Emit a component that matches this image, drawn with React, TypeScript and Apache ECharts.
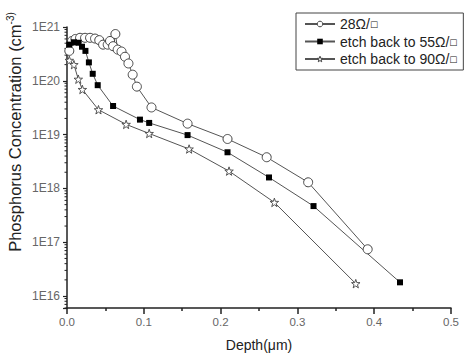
import React, { useEffect, useRef } from "react";
import * as echarts from "echarts";

const seriesNames = ["28Ω/□", "etch back to 55Ω/□", "etch back to 90Ω/□"];

const depth28 = [0.003, 0.0065, 0.011, 0.017, 0.0235, 0.03, 0.0365, 0.042, 0.047, 0.053, 0.056, 0.06, 0.063, 0.066, 0.071, 0.0755, 0.08, 0.0855, 0.091, 0.11, 0.157, 0.209, 0.26, 0.314, 0.3915];
const conc28 = [3.6e20, 5.5e20, 6.0e20, 6.3e20, 6.3e20, 6.3e20, 6.1e20, 5.7e20, 4.7e20, 4.7e20, 5.5e20, 4.4e20, 7.4e20, 3.8e20, 3.5e20, 2.8e20, 2.1e20, 1.3e20, 7.8e19, 3.2e19, 1.6e19, 8.3e18, 3.8e18, 1.3e18, 7.4e16];

const depth55 = [0.003, 0.009, 0.015, 0.0195, 0.024, 0.0285, 0.0335, 0.04, 0.06, 0.095, 0.107, 0.157, 0.209, 0.263, 0.321, 0.4336];
const conc55 = [4.7e20, 5.2e20, 5.1e20, 4.3e20, 3.6e20, 2.2e20, 1.35e20, 8.3e19, 3.4e19, 1.9e19, 1.65e19, 9.8e18, 4.7e18, 1.6e18, 4.7e17, 1.8e16];

const depth90 = [0.003, 0.009, 0.0147, 0.02, 0.041, 0.077, 0.107, 0.159, 0.211, 0.27, 0.376];
const conc90 = [2.4e20, 2.0e20, 1.07e20, 6.9e19, 2.9e19, 1.55e19, 1.05e19, 5.4e18, 2.1e18, 5.5e17, 1.7e16];

const xTicks = [0, 0.1, 0.2, 0.3, 0.4, 0.5];
const yDecades = [1e16, 1e17, 1e18, 1e19, 1e20, 1e21];
const yTitle = "Phosphorus Concentration (cm";
const yTitleSup = "-3)";

const STAR =
  "path://M0,-10L2.35,-3.24L9.51,-3.09L3.8,1.24L5.88,8.09L0,4L-5.88,8.09L-3.8,1.24L-9.51,-3.09L-2.35,-3.24Z";

const FONT = "Liberation Sans, Arial, sans-serif";
const LINE = "#555";

function pairs(xs: number[], ys: number[]) {
  return xs.map((x, i) => [x, ys[i]]);
}

export default function App() {
  const ref = useRef<HTMLDivElement>(null);
  useEffect(() => {
    if (!ref.current) return;
    const chart = echarts.init(ref.current, null, { renderer: "svg" });
    const hollow = { color: "#fff", borderColor: "#444", borderWidth: 1 };
    const option: any = {
      animation: false,
      backgroundColor: "#fff",
      textStyle: { fontFamily: FONT },
      grid: { left: 67, right: 25, top: 27, bottom: 56, containLabel: false },
      legend: {
        orient: "vertical",
        left: 296,
        top: 13,
        backgroundColor: "#fff",
        borderColor: "#444",
        borderWidth: 1,
        borderRadius: 0,
        padding: [4, 6, 4, 8],
        itemWidth: 30,
        itemHeight: 7,
        itemGap: 3.5,
        data: [
          { name: seriesNames[0], itemStyle: hollow },
          { name: seriesNames[1] },
          { name: seriesNames[2], itemStyle: hollow },
        ],
        formatter: (n: string) => "{t|" + n.replace("□", "") + "}{b|□}",
        textStyle: {
          fontFamily: FONT,
          fontSize: 14,
          color: "#222",
          lineHeight: 14,
          rich: {
            t: { fontFamily: FONT, fontSize: 14, color: "#222", lineHeight: 14 },
            b: { fontFamily: "DejaVu Sans", fontSize: 8.5, color: "#222", lineHeight: 14 },
          },
        },
      },
      xAxis: {
        type: "value",
        min: xTicks[0],
        max: xTicks[xTicks.length - 1],
        interval: 0.1,
        name: "Depth(μm)",
        nameLocation: "middle",
        nameGap: 30,
        nameTextStyle: { fontFamily: FONT, fontSize: 14, color: "#222" },
        axisLine: { show: true, lineStyle: { color: "#222", width: 1.5 } },
        axisTick: { show: true, inside: false, length: 6, lineStyle: { color: "#222", width: 1.5 } },
        minorTick: { show: true, splitNumber: 2, length: 3, lineStyle: { color: "#222", width: 1.5 } },
        axisLabel: {
          margin: 8,
          fontFamily: FONT,
          fontSize: 11.5,
          color: "#666",
          formatter: (v: number) => v.toFixed(1),
        },
        splitLine: { show: false },
      },
      yAxis: {
        type: "log",
        logBase: 10,
        min: 6e15,
        max: 1e21,
        axisLine: { show: true, lineStyle: { color: "#222", width: 1.5 } },
        axisTick: { show: true, inside: false, length: 4, lineStyle: { color: "#222", width: 1.2 } },
        axisLabel: {
          margin: 7,
          fontFamily: FONT,
          fontSize: 12,
          color: "#666",
          formatter: (v: number) => {
            const e = Math.round(Math.log10(v));
            if (Math.abs(Math.log10(v) - e) > 1e-6) return "";
            return "1E" + e;
          },
        },
        splitLine: { show: false },
      },
      series: [
        {
          name: seriesNames[0],
          type: "line",
          data: pairs(depth28, conc28),
          symbol: "circle",
          symbolSize: 9,
          lineStyle: { color: LINE, width: 1 },
          itemStyle: hollow,
        },
        {
          name: seriesNames[1],
          type: "line",
          data: pairs(depth55, conc55),
          symbol: "rect",
          symbolSize: 6,
          lineStyle: { color: LINE, width: 1 },
          itemStyle: { color: "#000", borderColor: "#000", borderWidth: 0 },
        },
        {
          name: seriesNames[2],
          type: "line",
          data: pairs(depth90, conc90),
          symbol: STAR,
          symbolSize: 8.5,
          lineStyle: { color: LINE, width: 1 },
          itemStyle: { color: "#fff", borderColor: "#444", borderWidth: 0.9 },
        },
      ],
    };
    chart.setOption(option);

    // log-style minor ticks (2..9 within each decade) on the y axis, plus y-axis title
    const graphics: any[] = [];
    const x0 = chart.convertToPixel({ xAxisIndex: 0 }, 0) as number;
    const decades = [1e15, ...yDecades];
    decades.forEach((d) => {
      for (let k = 2; k <= 9; k++) {
        const v = d * k;
        if (v < 6e15 || v > 1e21) continue;
        const py = chart.convertToPixel({ yAxisIndex: 0 }, v) as number;
        graphics.push({
          type: "line",
          shape: { x1: x0 - 2.5, y1: py, x2: x0, y2: py },
          style: { stroke: "#222", lineWidth: 1 },
          silent: true,
        });
      }
    });
    graphics.push({
      type: "text",
      x: 15,
      y: 132,
      rotation: Math.PI / 2,
      silent: true,
      style: {
        text: "{m|" + yTitle + "}{s|" + yTitleSup + "}",
        align: "center",
        verticalAlign: "middle",
        fill: "#222",
        fontFamily: FONT,
        fontSize: 16.5,
        rich: {
          m: { fontFamily: FONT, fontSize: 16.5, fill: "#222", color: "#222" },
          s: { fontFamily: FONT, fontSize: 10, fill: "#222", color: "#222", verticalAlign: "top", padding: [0, 0, 10, 0] },
        },
      },
    });
    chart.setOption({ graphic: graphics });

    return () => chart.dispose();
  }, []);
  return (
    <div
      style={{
        position: "fixed",
        left: 0,
        top: 0,
        width: 476,
        height: 364,
        boxSizing: "border-box",
        border: "2px solid #e9e9e9",
        background: "#fff",
      }}
    >
      <div ref={ref} style={{ position: "absolute", left: -2, top: -2, width: 476, height: 364 }} />
    </div>
  );
}
